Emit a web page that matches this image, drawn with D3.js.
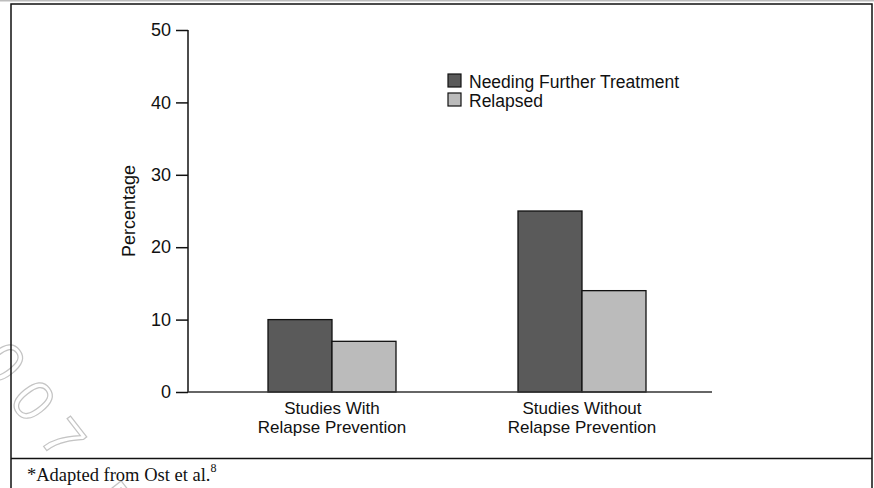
<!DOCTYPE html>
<html>
<head>
<meta charset="utf-8">
<script src="https://cdn.jsdelivr.net/npm/d3@7"></script>
<style>
  body { margin: 0; background: #fff; }
  text { font-family: "Liberation Sans", Arial, Helvetica, sans-serif; fill: #111; }
</style>
</head>
<body>
<div id="chart"></div>
<script>
var categories = [["Studies With", "Relapse Prevention"], ["Studies Without", "Relapse Prevention"]];
var seriesNames = ["Needing Further Treatment", "Relapsed"];
var needingFurther = [10, 25];
var relapsed = [7, 14];
var yTicks = [0, 10, 20, 30, 40, 50];
var seriesColors = ["#5a5a5a", "#bbbbbb"];

var svgWidth = 874;
var svgHeight = 488;

var svg = d3.select("#chart").append("svg").attr("width", svgWidth).attr("height", svgHeight);

// watermark
svg.append("text").attr("transform", "translate(-88, 278) rotate(52)")
  .style("font-size", "58px").style("letter-spacing", "16px")
  .style("fill", "none").style("stroke", "#c4c4c4").style("stroke-width", 1.2)
  .text("\u00a92007 Physicians Postgraduate Press");

// frame
svg.append("line").attr("x1", 0).attr("x2", svgWidth).attr("y1", 0.5).attr("y2", 0.5)
  .attr("stroke", "#bdbdbd").attr("stroke-width", 2);
svg.append("rect").attr("x", 11).attr("y", 4).attr("width", 861).attr("height", 500)
  .attr("fill", "none").attr("stroke", "#111").attr("stroke-width", 1.5);
svg.append("line").attr("x1", 11).attr("x2", 872).attr("y1", 458.5).attr("y2", 458.5)
  .attr("stroke", "#111").attr("stroke-width", 1.5);

var data = categories.map(function(c, i) {
  return { key: i, values: [needingFurther[i], relapsed[i]] };
});

var x0 = d3.scaleBand().domain(d3.range(categories.length)).range([268, 646]).paddingInner(0.488);
var x1 = d3.scaleBand().domain(d3.range(seriesNames.length)).range([0, x0.bandwidth()]);
var y = d3.scaleLinear().domain([0, 50]).range([392, 30]);

// y axis
var yAxis = svg.append("g").attr("transform", "translate(188, 0)")
  .call(d3.axisLeft(y).tickValues(yTicks).tickSize(12).tickPadding(5));
yAxis.select(".domain").attr("stroke", "#111").attr("stroke-width", 1.5).attr("d", "M0," + y(50) + "V" + y(0));
yAxis.selectAll(".tick line").attr("stroke", "#111").attr("stroke-width", 1.5);
yAxis.selectAll(".tick text").style("font-size", "18px").style("font-family", "Liberation Sans, Arial, sans-serif").attr("fill", "#111");

// bars
var groups = svg.selectAll(".grp").data(data).enter().append("g").attr("class", "grp")
  .attr("transform", function(d) { return "translate(" + x0(d.key) + ",0)"; });
groups.selectAll("rect").data(function(d) { return d.values; }).enter().append("rect")
  .attr("x", function(d, i) { return x1(i); })
  .attr("y", function(d) { return y(d); })
  .attr("width", x1.bandwidth())
  .attr("height", function(d) { return y(0) - y(d); })
  .attr("fill", function(d, i) { return seriesColors[i]; })
  .attr("stroke", "#111").attr("stroke-width", 1.3);

// baseline
svg.append("line").attr("x1", 188).attr("x2", 712).attr("y1", y(0)).attr("y2", y(0))
  .attr("stroke", "#333").attr("stroke-width", 1.5);

// category labels, two lines each
categories.forEach(function(lines, i) {
  lines.forEach(function(line, j) {
    svg.append("text").attr("text-anchor", "middle").style("font-size", "17px")
      .attr("x", x0(i) + x0.bandwidth() / 2)
      .attr("y", 414 + j * 19)
      .text(line);
  });
});

// y label
svg.append("text").attr("transform", "translate(135, 211) rotate(-90)")
  .attr("text-anchor", "middle").style("font-size", "18px").text("Percentage");

// legend
var legend = svg.selectAll(".leg").data(seriesNames).enter().append("g").attr("class", "leg")
  .attr("transform", function(d, i) { return "translate(448," + (74 + i * 19) + ")"; });
legend.append("rect").attr("width", 13).attr("height", 13)
  .attr("fill", function(d, i) { return seriesColors[i]; })
  .attr("stroke", "#111").attr("stroke-width", 1.2);
legend.append("text").attr("x", 21).attr("y", 13.5).style("font-size", "17.5px").text(function(d) { return d; });

// footnote
var foot = svg.append("text").attr("x", 27).attr("y", 480.5)
  .style("font-family", "Liberation Serif, Times New Roman, serif").style("font-size", "18.5px");
foot.append("tspan").text("*Adapted from Ost et al.");
foot.append("tspan").attr("dy", -9).style("font-size", "12px").text("8");
</script>
</body>
</html>
